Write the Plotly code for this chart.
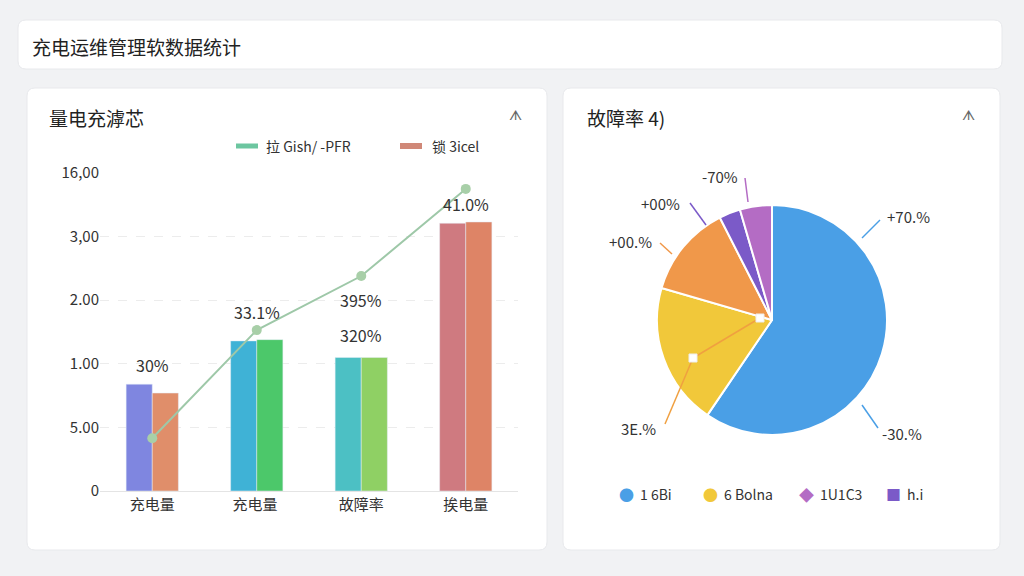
import plotly.graph_objects as go

W, H = 1024, 576

# bar chart data
categories = ["充电量", "充电量 ", "故障率", "挨电量"]
bar_left = [1.68, 2.36, 2.1, 4.21]
bar_right = [1.54, 2.38, 2.1, 4.23]
line_vals = [0.83, 2.53, 3.38, 4.75]
tick_vals = [0, 1, 2, 3, 4, 5]
tick_text = ["0", "5.00", "1.00", "2.00", "3,00", "16,00"]
bar_labels = ["30%", "33.1%", "320%", "41.0%"]
bar_label_y = [1.98, 2.82, 2.45, 4.51]
line_label = "395%"
line_label_y = 3.0

# pie data
pie_labels = ["1 6Bi", "6 Bolna", "橙", "h.i", "1U1C3"]
pie_values = [59.5, 20.0, 13.0, 3.0, 4.5]
pie_colors = ["#4a9fe6", "#f1c83a", "#f0984a", "#7b5ac8", "#b46cc4"]

px = lambda x: x / W
py = lambda y: 1 - y / H


def card(x0, y0, x1, y1, r=8):
    p = (f"M {px(x0 + r)} {py(y0)} L {px(x1 - r)} {py(y0)} "
         f"Q {px(x1)} {py(y0)} {px(x1)} {py(y0 + r)} L {px(x1)} {py(y1 - r)} "
         f"Q {px(x1)} {py(y1)} {px(x1 - r)} {py(y1)} L {px(x0 + r)} {py(y1)} "
         f"Q {px(x0)} {py(y1)} {px(x0)} {py(y1 - r)} L {px(x0)} {py(y0 + r)} "
         f"Q {px(x0)} {py(y0)} {px(x0 + r)} {py(y0)} Z")
    return dict(type="path", path=p, xref="paper", yref="paper",
                fillcolor="white", line=dict(color="#e8e9ec", width=1), layer="below")


fig = go.Figure()

fig.add_trace(go.Bar(x=categories, y=bar_left, marker_color=["#7f86e0", "#3fb2d6", "#4cc0c4", "#cf7a80"],
                     showlegend=False, width=0.25, offset=-0.25))
fig.add_trace(go.Bar(x=categories, y=bar_right, marker_color=["#e08e6a", "#4cc86a", "#8fd064", "#de8466"],
                     showlegend=False, width=0.25, offset=0))
fig.add_trace(go.Scatter(x=categories, y=line_vals, mode="lines+markers",
                         line=dict(color="#9ec8a8", width=2),
                         marker=dict(size=10, color="#a8cfa8"), showlegend=False))

fig.add_trace(go.Pie(labels=pie_labels, values=pie_values, sort=False, direction="clockwise",
                     marker=dict(colors=pie_colors, line=dict(color="white", width=2)),
                     textinfo="none", showlegend=False, hoverinfo="label+percent",
                     domain=dict(x=[px(657), px(887)], y=[py(435), py(205)])))

font = "Noto Sans CJK SC, Noto Sans, sans-serif"
ann = []
for c, t, y in zip(categories, bar_labels, bar_label_y):
    ann.append(dict(x=c, y=y, text=t, xref="x", yref="y", showarrow=False,
                    font=dict(size=16, color="#333")))
ann.append(dict(x=categories[2], y=line_label_y, text=line_label, xref="x", yref="y",
                showarrow=False, font=dict(size=16, color="#333")))


def ptext(x, y, t, size=15, color="#333", anchor="center"):
    ann.append(dict(x=px(x), y=py(y), text=t, xref="paper", yref="paper", showarrow=False,
                    xanchor=anchor, yanchor="middle", font=dict(size=size, color=color, family=font)))


ptext(30, 46, "充电运维管理软数据统计", 19, "#222", "left")
ptext(47, 117, "量电充滹芯", 19, "#222", "left")
ptext(585, 117, "故障率 4)", 19, "#222", "left")
ptext(515, 114, "ᗑ", 14, "#666")
ptext(968, 114, "ᗑ", 14, "#666")
# bar legend
ptext(264, 146, "拉 Gish/ -PFR", 14, "#333", "left")
ptext(430, 146, "锁 3icel", 14, "#333", "left")
# pie labels
ptext(885, 216, "+70.%", 15, "#333", "left")
ptext(880, 433, "-30.%", 15, "#333", "left")
ptext(720, 176, "-70%", 15)
ptext(660, 203, "+00%", 15)
ptext(630, 241, "+00.%", 15)
ptext(638, 428, "3E.%", 15)
# pie legend
legend_items = [(626, "●", "#4a9fe6", "1 6Bi"), (710, "●", "#f1c83a", "6 Bolna"),
                (806, "◆", "#b46cc4", "1U1C3"), (893, "■", "#7b5ac8", "h.i")]
for x, sym, col, lab in legend_items:
    ptext(x, 494, sym, 15, col)
    ptext(x + 12, 494, lab, 14, "#333", "left")

shapes = [card(18, 20, 1002, 69), card(27, 88, 547, 550), card(563, 88, 1000, 550)]
# bar legend swatches
shapes.append(dict(type="line", xref="paper", yref="paper", x0=px(236), x1=px(258), y0=py(146), y1=py(146),
                   line=dict(color="#6cc6a0", width=5)))
shapes.append(dict(type="line", xref="paper", yref="paper", x0=px(400), x1=px(422), y0=py(146), y1=py(146),
                   line=dict(color="#d08878", width=6)))
# pie leader lines
for (x0, y0, x1, y1, col) in [(862, 238, 880, 220, "#4a9fe6"), (862, 405, 878, 428, "#4a9fe6"),
                               (745, 178, 748, 202, "#b46cc4"), (690, 203, 706, 225, "#7b5ac8"),
                               (660, 243, 672, 254, "#f0984a"), (665, 424, 693, 358, "#f0a040"),
                               (693, 358, 760, 318, "#f0a040")]:
    shapes.append(dict(type="line", xref="paper", yref="paper", x0=px(x0), y0=py(y0), x1=px(x1), y1=py(y1),
                       line=dict(color=col, width=1.5)))
for (x, y) in [(693, 358), (760, 318)]:
    shapes.append(dict(type="rect", xref="paper", yref="paper", x0=px(x - 4), x1=px(x + 4),
                       y0=py(y + 4), y1=py(y - 4), fillcolor="white", line=dict(color="#eee", width=1)))

fig.update_layout(
    width=W, height=H, margin=dict(l=0, r=0, t=0, b=0, autoexpand=False),
    paper_bgcolor="#f1f2f4", plot_bgcolor="white",
    font=dict(family=font, size=15, color="#333"),
    barmode="overlay", shapes=shapes, annotations=ann,
    xaxis=dict(domain=[px(100), px(518)], showline=True, linecolor="#e4e4e4",
               tickfont=dict(size=15), ticks=""),
    yaxis=dict(domain=[py(491), py(173)], range=[0, 5], tickvals=tick_vals, ticktext=tick_text,
               showgrid=True, gridcolor="#ececec", griddash="dash", zeroline=False,
               tickfont=dict(size=15)),
)
fig.write_html("out.html", config={"displayModeBar": False},
               post_script="document.body.style.margin='0';document.body.style.overflow='hidden';")
